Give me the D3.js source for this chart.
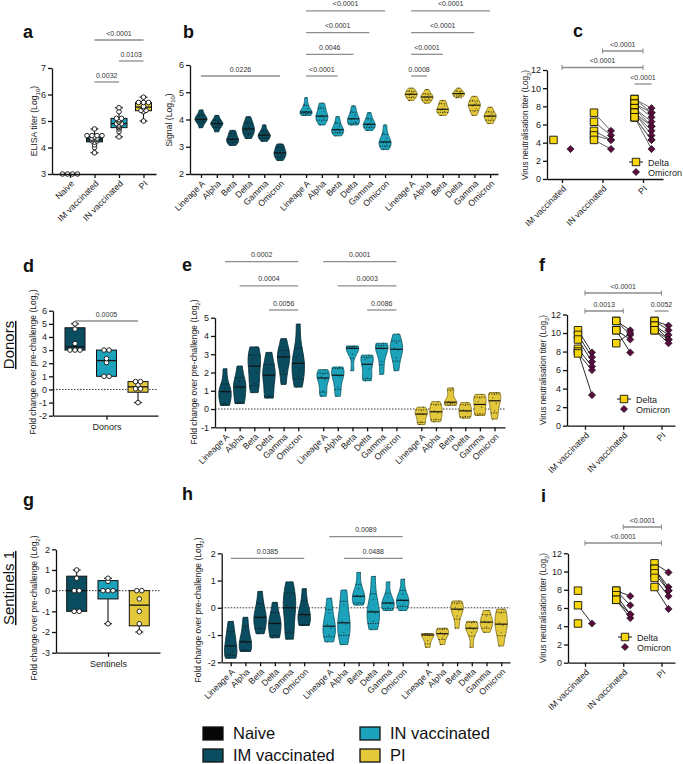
<!DOCTYPE html>
<html>
<head>
<meta charset="utf-8">
<title>Figure</title>
<script src="https://cdn.jsdelivr.net/npm/d3@7"></script>
<style>
  body { margin: 0; background: #fff; }
  svg { font-family: "Liberation Sans", Arial, Helvetica, sans-serif; display: block; }
</style>
</head>
<body>
<svg id="fig" width="683" height="764"></svg>
<script>
// ---- categories and colours ----
const strains = ['Lineage A', 'Alpha', 'Beta', 'Delta', 'Gamma', 'Omicron'];
const groups = ['IM vaccinated', 'IN vaccinated', 'PI'];
const groupsA = ['Naive', 'IM vaccinated', 'IN vaccinated', 'PI'];
const groupColors = { 'Naive': '#070707', 'IM vaccinated': '#0b4d60', 'IN vaccinated': '#1ca2ba', 'PI': '#e3c83b' };
const deltaColor = '#f6d60a';
const omicronColor = '#5b0c3f';

// ---- a: ELISA titer (Log10) ----
const elisaNaive = [3, 3, 3, 3];
const elisaIM = [4.7, 4.45, 4.45, 4.45, 4.45, 4.4, 4.35, 4.35, 4.3, 4.3, 4.25, 4.25, 4.2, 4.1, 4.0, 3.8];
const elisaIN = [5.5, 5.35, 5.1, 5.1, 5.05, 5.0, 4.95, 4.9, 4.9, 4.85, 4.8, 4.75, 4.7, 4.6, 4.4];
const elisaPI = [5.9, 5.7, 5.7, 5.7, 5.55, 5.5, 5.4, 5.4, 5.35, 5.0];
const sigA = [['0.0032', 'IM vaccinated', 'IN vaccinated', 0], ['0.0103', 'IN vaccinated', 'PI', 1], ['<0.0001', 'IM vaccinated', 'PI', 2]];

// ---- b: signal (Log10), one array per strain ----
const signalIM = [
  [3.7, 3.85, 3.95, 4.0, 4.0, 4.05, 4.1, 4.2, 4.35],
  [3.55, 3.7, 3.8, 3.85, 3.85, 3.9, 4.0, 4.15],
  [3.05, 3.15, 3.2, 3.25, 3.3, 3.4, 3.5, 3.6],
  [3.3, 3.45, 3.55, 3.6, 3.7, 3.8, 3.9, 4.1],
  [3.2, 3.3, 3.35, 3.4, 3.45, 3.5, 3.6, 3.8],
  [2.5, 2.6, 2.7, 2.75, 2.8, 2.9, 3.0, 3.1]
];
const signalIN = [
  [4.15, 4.2, 4.25, 4.25, 4.3, 4.4, 4.55, 4.8],
  [3.8, 3.95, 4.05, 4.1, 4.15, 4.3, 4.45, 4.6],
  [3.4, 3.5, 3.55, 3.6, 3.65, 3.75, 3.9, 4.1],
  [3.8, 3.85, 3.9, 4.0, 4.05, 4.15, 4.3, 4.5],
  [3.6, 3.7, 3.75, 3.8, 3.85, 3.95, 4.05, 4.25],
  [2.9, 3.0, 3.1, 3.15, 3.2, 3.3, 3.5, 3.8]
];
const signalPI = [
  [4.7, 4.8, 4.85, 4.9, 4.95, 5.0, 5.05, 5.15],
  [4.6, 4.7, 4.75, 4.8, 4.85, 4.9, 4.95, 5.1],
  [4.15, 4.25, 4.3, 4.35, 4.4, 4.5, 4.6, 4.7],
  [4.8, 4.85, 4.9, 4.95, 4.95, 5.0, 5.05, 5.15],
  [4.15, 4.3, 4.4, 4.5, 4.55, 4.6, 4.7, 4.85],
  [3.85, 3.95, 4.05, 4.1, 4.15, 4.2, 4.3, 4.45]
];
const sigB = [
  ['0.0226', 'IM vaccinated', 'Lineage A', 'Omicron', 0],
  ['<0.0001', 'IN vaccinated', 'Lineage A', 'Beta', 0],
  ['0.0046', 'IN vaccinated', 'Lineage A', 'Delta', 1],
  ['<0.0001', 'IN vaccinated', 'Lineage A', 'Gamma', 2],
  ['<0.0001', 'IN vaccinated', 'Lineage A', 'Omicron', 3],
  ['0.0008', 'PI', 'Lineage A', 'Alpha', 0],
  ['<0.0001', 'PI', 'Lineage A', 'Beta', 1],
  ['<0.0001', 'PI', 'Lineage A', 'Gamma', 2],
  ['<0.0001', 'PI', 'Lineage A', 'Omicron', 3]
];

// ---- c, f, i: virus neutralisation titer (Log2), paired Delta / Omicron ----
const neutCDelta = [[4.3, null], [7.3, 6.3, 5.3, 4.8, 4.3], [8.8, 8.8, 8.3, 8.3, 7.8, 7.8, 7.3, 7.3, 7.3, 6.8, 6.8, 6.8]];
const neutCOmicron = [[null, 3.3], [5.3, 4.8, 4.3, 4.3, 3.3], [7.8, 7.3, 7.3, 6.8, 6.3, 5.8, 5.8, 5.3, 4.8, 4.3, 4.3, 3.3]];
const sigC = [['<0.0001', 'PI:Delta', 'PI:Omicron', 0, false], ['<0.0001', 'IM vaccinated', 'PI', 1, true], ['<0.0001', 'IN vaccinated', 'PI', 2, true]];

const neutFDelta = [[10.3, 9.8, 9.3, 8.3, 8.0, 7.8], [11.3, 11.3, 10.3, 10.3, 8.9], [11.3, 11.3, 10.8, 10.8, 10.3, 10.3]];
const neutFOmicron = [[7.9, 7.4, 6.9, 6.4, 3.3, 6.0], [10.3, 9.8, 9.3, 7.9, 10.0], [10.8, 10.3, 9.8, 9.3, 9.3, 8.9]];
const sigF = [['0.0052', 'PI:Delta', 'PI:Omicron', 0, false], ['0.0013', 'IM vaccinated', 'IN vaccinated', 0, true], ['<0.0001', 'IM vaccinated', 'PI', 1, true]];

const neutIDelta = [[7.9, 6.3, 4.3], [7.9, 7.9, 7.4, 6.9, 6.9], [10.9, 10.3, 10.3, 9.8, 9.3, 8.3]];
const neutIOmicron = [[null, 4.3, null], [7.3, 6.3, 5.3, 4.9, 5.3], [9.9, 8.3, 7.9, 7.9, 7.3, 5.9]];
const sigI = [['<0.0001', 'IM vaccinated', 'PI', 0, true], ['<0.0001', 'IN vaccinated', 'PI', 1, true]];

// ---- d, g: fold change over pre-challenge (Log2) ----
const donorsIM = [5.0, 4.6, 3.5, 3.0, 3.0, 3.0];
const donorsIN = [3.0, 3.0, 2.35, 2.05, 1.0, 1.0];
const donorsPI = [0.6, 0.6, 0.35, 0.05, 0.05, -1.0];
const sigD = [['0.0005', 'IM vaccinated', 'PI', 0]];

const sentIM = [1.0, 0.6, 0, 0, -1, -1];
const sentIN = [0.6, 0.45, 0, 0, 0, -1.6];
const sentPI = [0, 0, -0.4, -1.0, -1.6, -2.0];

// ---- e: donors, fold change per strain ----
const foldDonorsIM = [
  [0.2, 0.3, 0.9, 1.0, 1.1, 2.2],
  [0.3, 0.35, 1.1, 1.3, 1.5, 2.35],
  [0.9, 1.4, 2.0, 2.7, 2.8, 3.4],
  [0.6, 0.7, 1.8, 1.9, 2.2, 3.1],
  [1.35, 2.1, 2.8, 2.9, 3.0, 3.85],
  [1.2, 1.8, 2.2, 2.8, 2.9, 4.65]
];
const foldDonorsIN = [
  [0.7, 1.0, 1.6, 1.8, 1.9, 2.15],
  [0.7, 1.2, 1.8, 1.9, 2.2, 2.3],
  [2.1, 3.0, 3.3, 3.35, 3.4, 3.45],
  [1.55, 1.7, 2.2, 2.7, 2.8, 2.95],
  [1.9, 2.6, 3.3, 3.35, 3.45, 3.6],
  [2.1, 2.8, 3.2, 3.35, 3.6, 4.1]
];
const foldDonorsPI = [
  [-0.85, -0.7, -0.3, -0.25, -0.1, 0.1],
  [-0.7, -0.55, -0.2, -0.1, 0.2, 0.4],
  [0.2, 0.3, 0.35, 0.4, 1.0, 1.15],
  [-0.5, -0.4, -0.15, -0.05, 0.2, 0.35],
  [-0.35, -0.25, 0.1, 0.4, 0.6, 0.8],
  [-0.55, -0.1, 0.3, 0.6, 0.8, 0.9]
];
const sigE = [
  ['0.0056', 'IM vaccinated', 'Delta', 'Omicron', 0],
  ['0.0004', 'IM vaccinated', 'Alpha', 'Omicron', 1],
  ['0.0002', 'IM vaccinated', 'Lineage A', 'Omicron', 2],
  ['0.0086', 'IN vaccinated', 'Delta', 'Omicron', 0],
  ['0.0003', 'IN vaccinated', 'Alpha', 'Omicron', 1],
  ['0.0001', 'IN vaccinated', 'Lineage A', 'Omicron', 2]
];

// ---- h: sentinels, fold change per strain ----
const foldSentIM = [
  [-1.85, -1.7, -1.6, -1.2, -1.0, -0.5],
  [-1.6, -1.55, -1.3, -1.2, -0.8, -0.35],
  [-0.95, -0.7, -0.4, -0.3, 0.0, 0.6],
  [-1.1, -1.0, -0.6, -0.55, -0.3, 0.2],
  [-1.15, -0.85, -0.1, 0.1, 0.4, 0.95],
  [-0.65, -0.6, -0.3, -0.2, 0.1, 0.7]
];
const foldSentIN = [
  [-1.25, -1.0, -0.75, -0.6, -0.2, 0.35],
  [-1.35, -0.9, -0.6, -0.5, 0.1, 0.65],
  [0.1, 0.2, 0.4, 0.45, 0.7, 1.3],
  [-0.8, -0.5, -0.2, -0.1, 0.3, 1.15],
  [-0.1, 0.0, 0.15, 0.2, 0.4, 0.95],
  [-0.1, 0.1, 0.25, 0.3, 0.5, 1.05]
];
const foldSentPI = [
  [-1.45, -1.2, -1.0, -0.95, -0.95],
  [-1.35, -1.1, -1.0, -0.9, -0.8, -0.75],
  [-0.75, -0.3, -0.1, 0.0, 0.15, 0.25],
  [-1.45, -0.9, -0.8, -0.7, -0.55, -0.5],
  [-0.9, -0.7, -0.55, -0.5, -0.3, -0.1],
  [-1.4, -0.9, -0.65, -0.55, -0.2, -0.05]
];
const sigH = [
  ['0.0385', 'IM vaccinated', 'Lineage A', 'Omicron', 0],
  ['0.0488', 'IN vaccinated', 'Alpha', 'Omicron', 0],
  ['0.0089', 'IN vaccinated', 'Lineage A', 'Omicron', 1]
];

// ================= helpers =================
const svg = d3.select('#fig');
const plain = (d) => String(d);

// quartiles the GraphPad way (n+1 positions)
const quant = (s, p) => {
  const n = s.length;
  const pos = Math.min(Math.max(p * (n + 1) - 1, 0), n - 1);
  const lo = Math.floor(pos), hi = Math.ceil(pos);
  return s[lo] + (s[hi] - s[lo]) * (pos - lo);
};

const styleAxis = (ax, size) => {
  ax.attr('font-family', null).attr('font-size', size || 9);
  ax.select('.domain').attr('stroke', '#111').attr('stroke-width', 1.3);
  ax.selectAll('.tick line').attr('stroke', '#111').attr('stroke-width', 1.3);
  ax.selectAll('.tick text').attr('fill', '#222');
};

const yAxis = (y, xPix, ticks) => {
  const ax = svg.append('g')
    .attr('transform', `translate(${xPix},0)`)
    .call(d3.axisLeft(y).tickValues(ticks).tickSize(4).tickSizeOuter(0).tickPadding(2).tickFormat(plain));
  styleAxis(ax);
};

const xAxis = (x, yPix, ticks, labels, rotate) => {
  const ax = svg.append('g')
    .attr('transform', `translate(0,${yPix})`)
    .call(d3.axisBottom(x).tickValues(ticks).tickSize(4).tickSizeOuter(0).tickFormat((d, i) => labels[i]));
  styleAxis(ax, rotate ? 8.7 : 9);
  if (rotate) {
    ax.selectAll('.tick text')
      .attr('x', 0).attr('y', 0).attr('dy', '0.35em')
      .attr('transform', 'translate(2,8) rotate(-45)')
      .attr('text-anchor', 'end');
  } else {
    ax.selectAll('.tick text').attr('y', 8);
  }
};

const yTitle = (x, yc, main, sub, size) => {
  const t = svg.append('text')
    .attr('transform', `translate(${x},${yc}) rotate(-90)`)
    .attr('text-anchor', 'middle')
    .attr('font-size', size)
    .attr('fill', '#222');
  t.append('tspan').text(main + ' (Log');
  t.append('tspan').attr('font-size', size * 0.7).attr('dy', 2.5).text(sub);
  t.append('tspan').attr('dy', -2.5).text(')');
};

const letter = (t, x, y) => {
  svg.append('text').attr('x', x).attr('y', y)
    .attr('font-size', 18).attr('font-weight', 'bold').attr('fill', '#111').text(t);
};

// bars: {label, x1, x2, y, caps}
const sigBars = (bars) => {
  const g = svg.append('g');
  bars.forEach((b) => {
    g.append('line').attr('x1', b.x1).attr('x2', b.x2).attr('y1', b.y).attr('y2', b.y)
      .attr('stroke', '#8d8d8d').attr('stroke-width', 1.3);
    if (b.caps) {
      [b.x1, b.x2].forEach((xx) => g.append('line').attr('x1', xx).attr('x2', xx)
        .attr('y1', b.y - 2.5).attr('y2', b.y + 2.5).attr('stroke', '#8d8d8d').attr('stroke-width', 1.1));
    }
    g.append('text').attr('x', (b.x1 + b.x2) / 2).attr('y', b.y - 4.5)
      .attr('text-anchor', 'middle').attr('font-size', 7).attr('fill', '#333').text(b.label);
  });
};

const zeroLine = (x, y) => {
  svg.append('line').attr('x1', x.range()[0]).attr('x2', x.range()[1])
    .attr('y1', y(0)).attr('y2', y(0))
    .attr('stroke', '#333').attr('stroke-width', 1).attr('stroke-dasharray', '1.5,1.5');
};

// linear x scale over slot index, given pixel of slot 0, step and axis extent
const slotScale = (x0, step, a0, a1) =>
  d3.scaleLinear().domain([(a0 - x0) / step, (a1 - x0) / step]).range([a0, a1]);

// ================= box plots (a, d, g) =================
const boxPanel = (p) => {
  const y = d3.scaleLinear().domain(p.yDomain).range(p.yRange);
  const x = slotScale(p.x0, p.step, p.axis[0], p.axis[1]);
  if (p.zero) zeroLine(x, y);
  p.data.forEach((vals, i) => {
    const cx = x(i);
    const s = vals.slice().sort(d3.ascending);
    const q1 = quant(s, 0.25), med = quant(s, 0.5), q3 = quant(s, 0.75);
    const g = svg.append('g');
    g.append('line').attr('x1', cx).attr('x2', cx).attr('y1', y(s[0])).attr('y2', y(s[s.length - 1]))
      .attr('stroke', '#111').attr('stroke-width', 1.1);
    [s[0], s[s.length - 1]].forEach((v) => g.append('line')
      .attr('x1', cx - 4).attr('x2', cx + 4).attr('y1', y(v)).attr('y2', y(v))
      .attr('stroke', '#111').attr('stroke-width', 1.1));
    g.append('rect').attr('x', cx - p.boxW / 2).attr('width', p.boxW)
      .attr('y', y(q3)).attr('height', y(q1) - y(q3))
      .attr('fill', groupColors[p.names[i]]).attr('stroke', '#111').attr('stroke-width', 1);
    g.append('line').attr('x1', cx - p.boxW / 2).attr('x2', cx + p.boxW / 2)
      .attr('y1', y(med)).attr('y2', y(med)).attr('stroke', '#111').attr('stroke-width', 1.3);
    // points spread sideways where values coincide
    const byValue = d3.group(s, (v) => v.toFixed(2));
    byValue.forEach((same) => {
      same.forEach((v, k) => {
        g.append('circle').attr('cx', cx + (k - (same.length - 1) / 2) * 5).attr('cy', y(v))
          .attr('r', 2.3).attr('fill', '#fff').attr('stroke', '#111').attr('stroke-width', 0.9);
      });
    });
  });
  yAxis(y, p.axis[0], p.yTicks);
  xAxis(x, p.yRange[0], p.xTicks, p.xLabels, p.rotate);
  sigBars((p.sig || []).map(([label, a, b, row]) => ({
    label, x1: x(p.names.indexOf(a)), x2: x(p.names.indexOf(b)), y: p.sigBase - row * p.sigStep, caps: false
  })));
};

// ================= violins (b, e, h) =================
const violinPanel = (p) => {
  const y = d3.scaleLinear().domain(p.yDomain).range(p.yRange);
  const x = slotScale(p.x0, p.step, p.axis[0], p.axis[1]);
  const slot = (g, i) => g * p.gap + i;
  if (p.zero) zeroLine(x, y);
  p.data.forEach((grp, g) => {
    const fill = groupColors[groups[g]];
    const edge = d3.color(fill).darker(1.6).formatHex();
    grp.forEach((vals, i) => {
      const cx = x(slot(g, i));
      const s = vals.slice().sort(d3.ascending);
      const lo = s[0], hi = s[s.length - 1];
      const bw = Math.max(0.9 * d3.deviation(s) * Math.pow(s.length, -0.2), (hi - lo) * 0.12);
      const dens = (v) => d3.sum(s, (t) => Math.exp(-0.5 * ((v - t) / bw) ** 2));
      const levels = d3.range(0, 41).map((k) => lo + (hi - lo) * k / 40);
      const maxD = d3.max(levels, dens);
      const w = (v) => p.halfW * dens(v) / maxD;
      const area = d3.area().curve(d3.curveCatmullRom)
        .y((v) => y(v)).x0((v) => cx - w(v)).x1((v) => cx + w(v));
      const gg = svg.append('g');
      gg.append('path').attr('d', area(levels)).attr('fill', fill)
        .attr('stroke', edge).attr('stroke-width', 0.9);
      const med = quant(s, 0.5);
      gg.append('line').attr('x1', cx - w(med)).attr('x2', cx + w(med)).attr('y1', y(med)).attr('y2', y(med))
        .attr('stroke', '#111').attr('stroke-width', 1.2);
      [quant(s, 0.25), quant(s, 0.75)].forEach((v) => gg.append('line')
        .attr('x1', cx - w(v)).attr('x2', cx + w(v)).attr('y1', y(v)).attr('y2', y(v))
        .attr('stroke', '#111').attr('stroke-width', 0.8).attr('stroke-dasharray', '1.2,1.2'));
      s.forEach((v, k) => gg.append('circle').attr('cx', cx + ((k % 3) - 1) * 1.8).attr('cy', y(v))
        .attr('r', 0.7).attr('fill', '#111').attr('opacity', 0.55));
    });
  });
  yAxis(y, p.axis[0], p.yTicks);
  const ticks = [], labels = [];
  groups.forEach((gName, g) => strains.forEach((sName, i) => { ticks.push(slot(g, i)); labels.push(sName); }));
  xAxis(x, p.yRange[0], ticks, labels, true);
  sigBars(p.sig.map(([label, gName, a, b, row]) => ({
    label,
    x1: x(slot(groups.indexOf(gName), strains.indexOf(a))),
    x2: x(slot(groups.indexOf(gName), strains.indexOf(b))),
    y: p.sigBase - row * p.sigStep, caps: false
  })));
};

// ================= paired titers (c, f, i) =================
const square = d3.symbol(d3.symbolSquare, 56)();
const diamond = d3.symbol(d3.symbolSquare, 26)();

const pairedPanel = (p) => {
  const y = d3.scaleLinear().domain([0, 12]).range(p.yRange);
  const x = slotScale(p.x0, p.step, p.axis[0], p.axis[1]);
  const key = (k) => {
    const [name, v] = k.split(':');
    const c = x(groups.indexOf(name));
    return v === 'Delta' ? c - p.off : v === 'Omicron' ? c + p.off : c;
  };
  const g = svg.append('g');
  p.delta.forEach((dArr, gi) => {
    const cx = x(gi);
    const oArr = p.omicron[gi];
    dArr.forEach((d, k) => {
      const o = oArr[k];
      if (d != null && o != null) {
        g.append('line').attr('x1', cx - p.off).attr('x2', cx + p.off).attr('y1', y(d)).attr('y2', y(o))
          .attr('stroke', p.lineColor).attr('stroke-width', 0.9);
      }
    });
  });
  p.delta.forEach((dArr, gi) => {
    const cx = x(gi);
    p.omicron[gi].filter((o) => o != null).forEach((o) => g.append('path').attr('d', diamond)
      .attr('transform', `translate(${cx + p.off},${y(o)}) rotate(45)`)
      .attr('fill', omicronColor).attr('stroke', '#111').attr('stroke-width', 0.6));
    dArr.filter((d) => d != null).forEach((d) => g.append('path').attr('d', square)
      .attr('transform', `translate(${cx - p.off},${y(d)})`)
      .attr('fill', deltaColor).attr('stroke', '#111').attr('stroke-width', 0.9));
  });
  yAxis(y, p.axis[0], [0, 2, 4, 6, 8, 10, 12]);
  xAxis(x, p.yRange[0], [0, 1, 2], groups, true);
  sigBars(p.sig.map(([label, a, b, row, caps]) => ({
    label, x1: key(a), x2: key(b), y: p.sigBase - row * p.sigStep, caps
  })));
  // legend
  const lg = svg.append('g').attr('transform', `translate(${p.legend[0]},${p.legend[1]})`);
  lg.append('line').attr('x1', -7).attr('x2', 7).attr('y1', 0).attr('y2', 0).attr('stroke', '#111');
  lg.append('path').attr('d', square).attr('fill', deltaColor).attr('stroke', '#111').attr('stroke-width', 0.9);
  lg.append('path').attr('d', diamond).attr('transform', 'translate(0,10) rotate(45)')
    .attr('fill', omicronColor).attr('stroke', '#111').attr('stroke-width', 0.6);
  lg.append('text').attr('x', 12).attr('y', 3.5).attr('font-size', 9).attr('fill', '#222').text('Delta');
  lg.append('text').attr('x', 12).attr('y', 13.5).attr('font-size', 9).attr('fill', '#222').text('Omicron');
};

// ================= draw the panels =================
// a
boxPanel({
  data: [elisaNaive, elisaIM, elisaIN, elisaPI], names: groupsA,
  yDomain: [3, 7], yRange: [174, 68], yTicks: [3, 4, 5, 6, 7],
  x0: 70, step: 24.5, axis: [52, 156], boxW: 16,
  xTicks: [0, 1, 2, 3], xLabels: groupsA, rotate: true,
  sig: sigA, sigBase: 82, sigStep: 21
});
yTitle(37, 121, 'ELISA titer', '10', 8.7);
letter('a', 23, 38);

// b
violinPanel({
  data: [signalIM, signalIN, signalPI],
  yDomain: [2, 6], yRange: [174, 65], yTicks: [2, 3, 4, 5, 6],
  x0: 201, step: 15.8, gap: 6.65, axis: [190, 498], halfW: 6,
  sig: sigB, sigBase: 76, sigStep: 21.7
});
svg.append('text').attr('transform', 'translate(172,120) rotate(-90)').attr('text-anchor', 'middle')
  .attr('font-size', 8.7).attr('fill', '#222')
  .call((t) => {
    t.append('tspan').text('Signal (Log');
    t.append('tspan').attr('font-size', 6).attr('dy', 2.5).text('10');
    t.append('tspan').attr('dy', -2.5).text(')');
  });
letter('b', 183, 38);

// c
pairedPanel({
  delta: neutCDelta, omicron: neutCOmicron,
  yRange: [179, 70], x0: 562, step: 40.5, axis: [547, 663], off: 8.5,
  lineColor: '#555', sig: sigC, sigBase: 84, sigStep: 16.5, legend: [636, 162]
});
yTitle(528, 125, 'Virus neutralisation titer', '2', 8.2);
letter('c', 573, 37);

// d
boxPanel({
  data: [donorsIM, donorsIN, donorsPI], names: groups,
  yDomain: [-2, 6], yRange: [415.7, 310.7], yTicks: [-2, -1, 0, 1, 2, 3, 4, 5, 6],
  x0: 75, step: 31.5, axis: [53, 158], boxW: 20, zero: true,
  xTicks: [1], xLabels: ['Donors'], rotate: false,
  sig: sigD, sigBase: 321, sigStep: 20
});
yTitle(36, 362, 'Fold change over pre-challenge', '2', 8.5);
letter('d', 23, 272);

// e
violinPanel({
  data: [foldDonorsIM, foldDonorsIN, foldDonorsPI], zero: true,
  yDomain: [-1, 5], yRange: [427.3, 317.7], yTicks: [-1, 0, 1, 2, 3, 4, 5],
  x0: 225, step: 14.65, gap: 6.7, axis: [215, 505], halfW: 6.2,
  sig: sigE, sigBase: 310, sigStep: 24.2
});
yTitle(197, 372, 'Fold change over pre-challenge', '2', 8.5);
letter('e', 182, 271);

// f
pairedPanel({
  delta: neutFDelta, omicron: neutFOmicron,
  yRange: [425.7, 314.5], x0: 585, step: 38.25, axis: [567, 675], off: 7,
  lineColor: '#111', sig: sigF, sigBase: 311, sigStep: 18, legend: [624, 399]
});
yTitle(546, 370, 'Virus neutralisation titer', '2', 8.2);
letter('f', 539, 271);

// g
boxPanel({
  data: [sentIM, sentIN, sentPI], names: groups,
  yDomain: [-3, 2], yRange: [652.7, 549.3], yTicks: [-3, -2, -1, 0, 1, 2],
  x0: 76.7, step: 31.3, axis: [56, 160], boxW: 20, zero: true,
  xTicks: [1], xLabels: ['Sentinels'], rotate: false,
  sig: [], sigBase: 0, sigStep: 0
});
yTitle(37, 608, 'Fold change over pre-challenge', '2', 8.5);
letter('g', 23, 506);

// h
violinPanel({
  data: [foldSentIM, foldSentIN, foldSentPI], zero: true,
  yDomain: [-2, 2], yRange: [662.3, 553.3], yTicks: [-2, -1, 0, 1, 2],
  x0: 230.7, step: 14.7, gap: 6.7, axis: [221.7, 510], halfW: 6.2,
  sig: sigH, sigBase: 558.3, sigStep: 21.6
});
yTitle(201, 610, 'Fold change over pre-challenge', '2', 8.5);
letter('h', 182, 500);

// i
pairedPanel({
  delta: neutIDelta, omicron: neutIOmicron,
  yRange: [662.7, 553.3], x0: 585, step: 38.25, axis: [568, 675], off: 7,
  lineColor: '#111', sig: sigI, sigBase: 543, sigStep: 16, legend: [625, 637]
});
yTitle(546, 608, 'Virus neutralisation titer', '2', 8.2);
letter('i', 541, 502);

// row labels
[['Donors', 14, 345], ['Sentinels 1', 14, 588]].forEach(([t, x, yc]) => {
  svg.append('text').attr('transform', `translate(${x},${yc}) rotate(-90)`)
    .attr('text-anchor', 'middle').attr('font-size', 15).attr('fill', '#111')
    .style('text-decoration', 'underline').text(t);
});

// bottom legend
const legendItems = [['Naive', 203, 727], ['IM vaccinated', 203, 749], ['IN vaccinated', 360, 727], ['PI', 360, 749]];
const leg = svg.append('g');
legendItems.forEach(([name, x, y]) => {
  leg.append('rect').attr('x', x).attr('y', y).attr('width', 20).attr('height', 13)
    .attr('fill', groupColors[name]).attr('stroke', '#111').attr('stroke-width', 1.3);
  leg.append('text').attr('x', x + 30).attr('y', y + 12).attr('font-size', 16.5).attr('fill', '#111').text(name);
});
</script>
</body>
</html>
